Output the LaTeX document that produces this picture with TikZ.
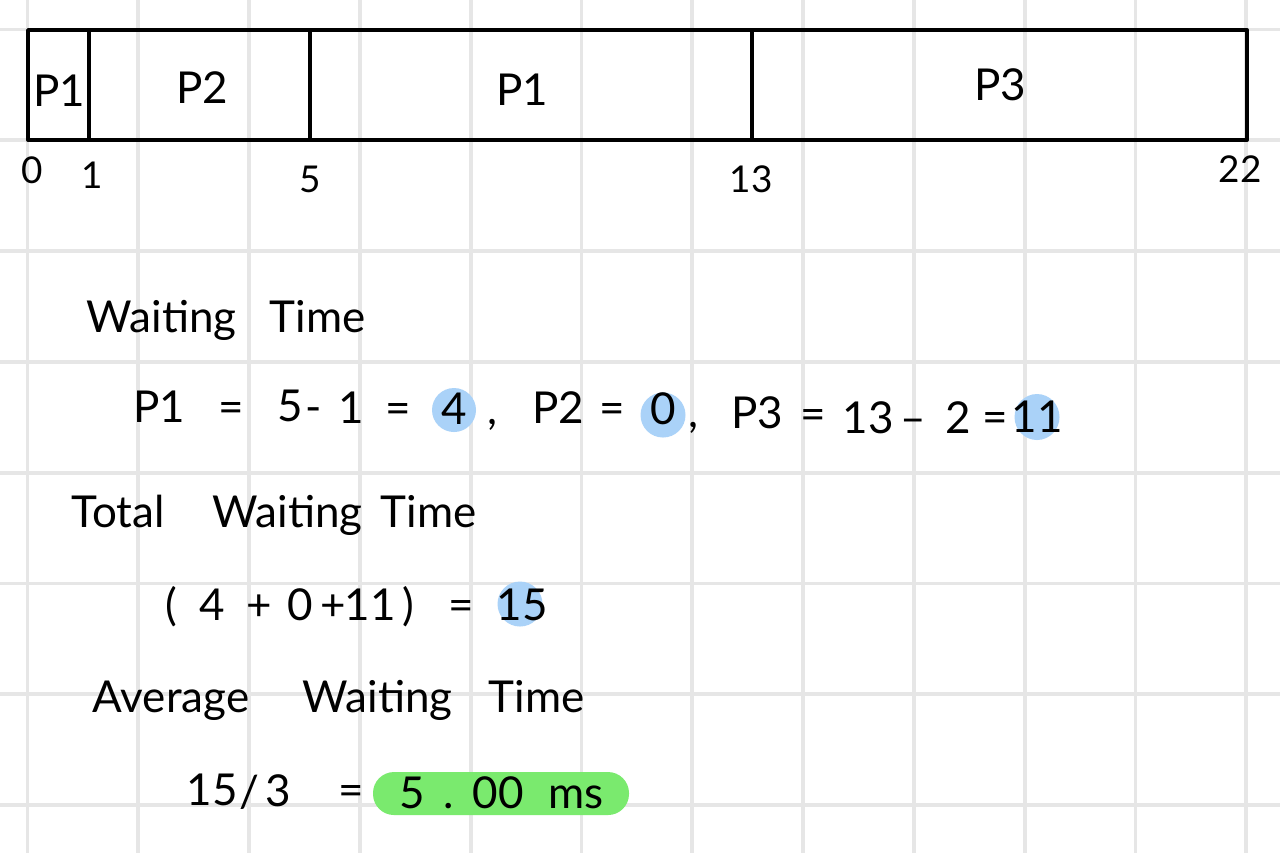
\documentclass[tikz,border=0pt]{standalone}
\usepackage{fontspec}
\setmainfont{Lato}
\definecolor{hlblue}{RGB}{170,210,248}
\definecolor{hlgreen}{RGB}{122,234,110}
\definecolor{gridgray}{RGB}{230,230,230}
\tikzset{
  gridline/.style={gridgray,line width=1.1pt},
  chartline/.style={black,line width=1.1pt,line cap=round,line join=round},
  hand/.style={inner sep=0pt,anchor=base,font=\fontsize{12.5}{15}\selectfont},
  ticklabel/.style={hand,font=\fontsize{10.5}{13}\selectfont},
  word/.style={hand,anchor=base west},
}
\begin{document}
\begin{tikzpicture}[x=0.01cm,y=-0.01cm]
\useasboundingbox (0,0) rectangle (1280,853);
\fill[white] (0,0) rectangle (1280,853);
% squared paper
\foreach \gx in {0,...,11} \draw[gridline] ({27.5+110.8*\gx},0) -- ++(0,853);
\foreach \gy in {0,...,7} \draw[gridline] (0,{29.5+110.8*\gy}) -- ++(1280,0);
% gantt chart
\draw[chartline] (28,30) rectangle (1247,140);
\foreach \bx in {89,310,752} \draw[chartline] (\bx,30) -- (\bx,140);
\node[hand] (g1) at (59,106) {P1};
\node[hand] (g2) at (202,103) {P2};
\node[hand] (g3) at (522,105) {P1};
\node[hand] (g4) at (1000,100) {P3};
\foreach \t/\x/\y [count=\i] in {0/32/183, 1/92/188, 5/310/192, 13/751/192, 22/1240/182}
  \node[ticklabel] (t\i) at (\x,\y) {\t};
% highlights
\fill[hlblue] (454,410) circle (22);
\fill[hlblue] (663,415) circle (22.5);
\fill[hlblue] (1037,417) ellipse (22.5 and 23);
\fill[hlblue] (520,604) circle (22.5);
\fill[hlgreen, rounded corners=0.21cm] (373,772) rectangle (629,815);
% waiting time
\node[word] (wa1) at (86,332) {Waiting};
\node[word] (wa2) at (269,332) {Time};
\foreach \t/\x/\y [count=\i] in {P1/159/422, =/231/422, 5/290/421, -/314/422, 1/351/423,
    =/398/423, 4/454/424, {,}/492/424, P2/558/423, =/612/423, 0/663/424, {,}/693/427,
    P3/757/428, =/813/429, 13/868/433, --/913/433, 2/958/433, =/995/432, 11/1037/432}
  \node[hand] (w\i) at (\x,\y) {\t};
% total waiting time
\node[word] (to1) at (71,527) {Total};
\node[word] (to2) at (212,527) {Waiting};
\node[word] (to3) at (380,527) {Time};
\foreach \t/\x [count=\i] in {{(}/171, 4/212, +/259, 0/300, +/333, 11/370, {)}/408, =/461, 15/522}
  \node[hand] (s\i) at (\x,620) {\t};
% average waiting time
\node[word] (av1) at (92,712) {Average};
\node[word] (av2) at (302,712) {Waiting};
\node[word] (av3) at (488,712) {Time};
\foreach \t/\x/\y [count=\i] in {15/212/805, {/}/249/807, 3/278/806, =/351/805,
    5/412/808, ./449/808, 00/498/808, ms/576/808}
  \node[hand] (a\i) at (\x,\y) {\t};
\end{tikzpicture}
\end{document}
